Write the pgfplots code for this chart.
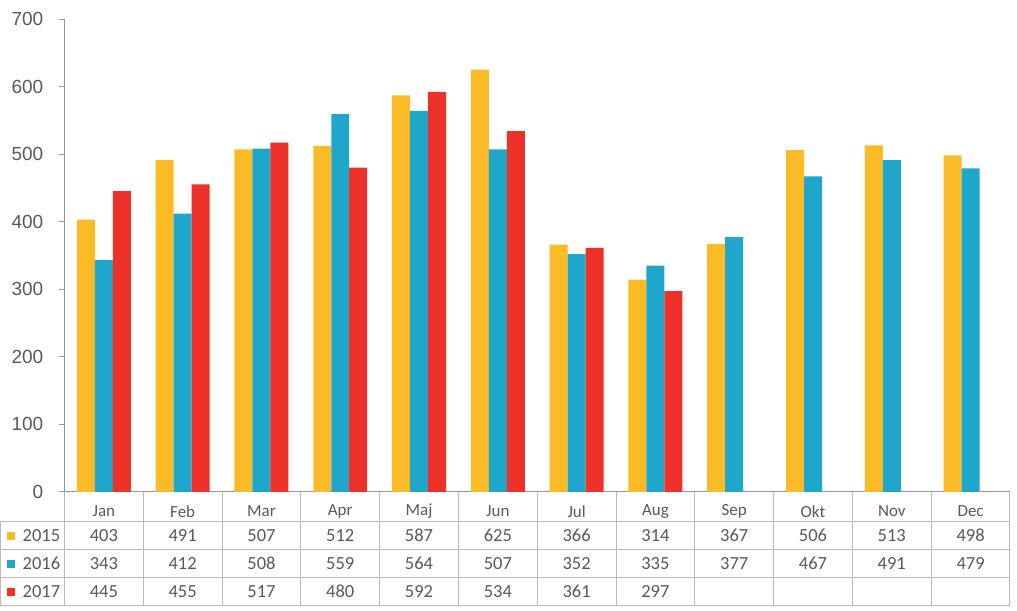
\documentclass[border=0pt]{standalone}
\usepackage{pgfplots}
\pgfplotsset{compat=1.18}
\usepackage{fontspec}
\setmainfont{Carlito}
\newfontfamily\arial{Liberation Sans}
\definecolor{c15}{RGB}{251,187,39}
\definecolor{c16}{RGB}{31,167,203}
\definecolor{c17}{RGB}{238,49,40}
\definecolor{linec}{RGB}{185,185,185}
\definecolor{axc}{RGB}{150,150,150}
\definecolor{txt}{RGB}{89,89,89}
\begin{document}
\begin{tikzpicture}[x=1pt,y=1pt]
\path (0,0) rectangle (1017,611);
\begin{axis}[at={(64pt,119pt)}, anchor=south west, scale only axis,
  width=946pt, height=473pt,
  xmin=-0.5, xmax=11.5, ymin=0, ymax=700,
  ybar=0pt, bar width=18pt,
  axis lines*=left, axis line style={draw=axc, line width=0.9pt},
  ytick={0,100,...,700}, tick align=outside, major tick length=5pt,
  y tick style={draw=axc, line width=0.9pt},
  xtick={0,...,11},
  xticklabels={Jan,Feb,Mar,Apr,Maj,Jun,Jul,Aug,Sep,Okt,Nov,Dec},
  x tick style={draw=none},
  xticklabel style={anchor=center, yshift=-14.5pt, font=\fontsize{17}{17}\selectfont, text=txt},
  yticklabel style={font=\arial\fontsize{19}{19}\selectfont, text=txt, anchor=east, inner xsep=0pt, xshift=-16pt},
  /pgf/number format/assume math mode=true,
  clip=false,
]
\addplot[fill=c15, draw=none] coordinates {(0,403) (1,491) (2,507) (3,512) (4,587) (5,625) (6,366) (7,314) (8,367) (9,506) (10,513) (11,498)};
\addplot[fill=c16, draw=none] coordinates {(0,343) (1,412) (2,508) (3,559) (4,564) (5,507) (6,352) (7,335) (8,377) (9,467) (10,491) (11,479)};
\addplot[fill=c17, draw=none] coordinates {(0,445) (1,455) (2,517) (3,480) (4,592) (5,534) (6,361) (7,297)};
\end{axis}
% table grid
\begin{scope}[draw=linec, line width=1pt]
\draw (0,89.3) -- (1010,89.3);
\draw (0,61) -- (1010,61);
\draw (0,33) -- (1010,33);
\draw (0,5) -- (1010,5);
\draw (0,89.3) -- (0,5);
\foreach \i in {0,...,12} \draw ({64+78.83*\i},119) -- ({64+78.83*\i},5);
\end{scope}
% legend column
\fill[c15] (7,71) rectangle (15,79);
\fill[c16] (7,43) rectangle (15,51);
\fill[c17] (7,15) rectangle (15,23);
\begin{scope}[every node/.style={text=txt, font=\fontsize{18.5}{18.5}\selectfont, inner sep=0pt}]
\node[anchor=west] at (22,75) {2015};
\node[anchor=west] at (22,47) {2016};
\node[anchor=west] at (22,19) {2017};
\foreach \v [count=\i from 0] in {403,491,507,512,587,625,366,314,367,506,513,498}
  \node at ({103.4+78.83*\i},75) {\v};
\foreach \v [count=\i from 0] in {343,412,508,559,564,507,352,335,377,467,491,479}
  \node at ({103.4+78.83*\i},47) {\v};
\foreach \v [count=\i from 0] in {445,455,517,480,592,534,361,297}
  \node at ({103.4+78.83*\i},19) {\v};
\end{scope}
\end{tikzpicture}
\end{document}
